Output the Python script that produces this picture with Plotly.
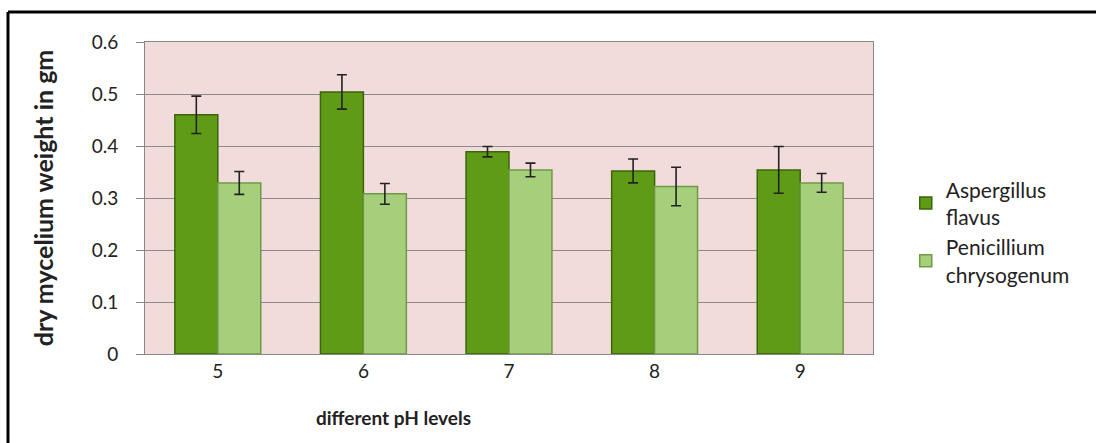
import plotly.graph_objects as go

categories = ["5", "6", "7", "8", "9"]
aspergillus = [0.46, 0.504, 0.389, 0.352, 0.354]
aspergillus_err = [0.036, 0.033, 0.010, 0.023, 0.045]
penicillium = [0.329, 0.308, 0.354, 0.322, 0.329]
penicillium_err = [0.022, 0.020, 0.013, 0.037, 0.018]
y_ticks = [0, 0.1, 0.2, 0.3, 0.4, 0.5, 0.6]
y_ticklabels = ["0", "0.1", "0.2", "0.3", "0.4", "0.5", "0.6"]

FONT = "Lato"

fig = go.Figure()
fig.add_trace(go.Bar(
    x=categories, y=aspergillus, name="Aspergillus<br>flavus",
    marker=dict(color="#5f9b16", line=dict(color="#3b650a", width=1.5)),
    error_y=dict(type="data", array=aspergillus_err, color="#222222", thickness=1.6, width=5),
))
fig.add_trace(go.Bar(
    x=categories, y=penicillium, name="Penicillium<br>chrysogenum",
    marker=dict(color="#a6cf7c", line=dict(color="#6f9a45", width=1.5)),
    error_y=dict(type="data", array=penicillium_err, color="#222222", thickness=1.6, width=5),
))

fig.update_layout(
    width=1096, height=443,
    margin=dict(l=145, r=223, t=42, b=89, autoexpand=False),
    paper_bgcolor="white",
    plot_bgcolor="#f2dcdb",
    barmode="group", bargap=0.41, bargroupgap=0,
    font=dict(family=FONT, size=19, color="#222222"),
    showlegend=True,
    legend=dict(x=1.045, y=0.39, xanchor="left", yanchor="middle",
                font=dict(family=FONT, size=21, color="#222222"),
                tracegroupgap=14, itemwidth=30, bgcolor="rgba(0,0,0,0)"),
    shapes=[
        dict(type="line", xref="paper", yref="paper", x0=-0.1882, x1=1.31, y0=1.0962, y1=1.0962,
             line=dict(color="black", width=3)),
        dict(type="line", xref="paper", yref="paper", x0=-0.1882, x1=-0.1882, y0=1.0962, y1=-0.3,
             line=dict(color="black", width=3)),
    ],
    annotations=[
        dict(text="<b>different pH levels</b>", xref="paper", yref="paper",
             x=0.342, y=-0.205, xanchor="center", yanchor="middle", showarrow=False,
             font=dict(family=FONT, size=19, color="#222222")),
    ],
)
fig.update_xaxes(
    showline=True, linecolor="#888888", linewidth=1, mirror=True,
    ticks="", tickfont=dict(size=19),
)
fig.update_yaxes(
    range=[0, 0.6], tickvals=y_ticks, ticktext=y_ticklabels,
    showgrid=True, gridcolor="#8a8a8a", gridwidth=1,
    showline=True, linecolor="#888888", linewidth=1, mirror=True,
    ticks="outside", ticklen=8, tickcolor="#888888", tickfont=dict(size=19),
    ticklabelstandoff=14,
    title=dict(text="<b>dry mycelium weight in gm</b>", font=dict(size=25), standoff=30),
    zeroline=False,
)

fig.write_html("out.html", config={"displayModeBar": False},
               post_script="document.body.style.margin='0px';")
